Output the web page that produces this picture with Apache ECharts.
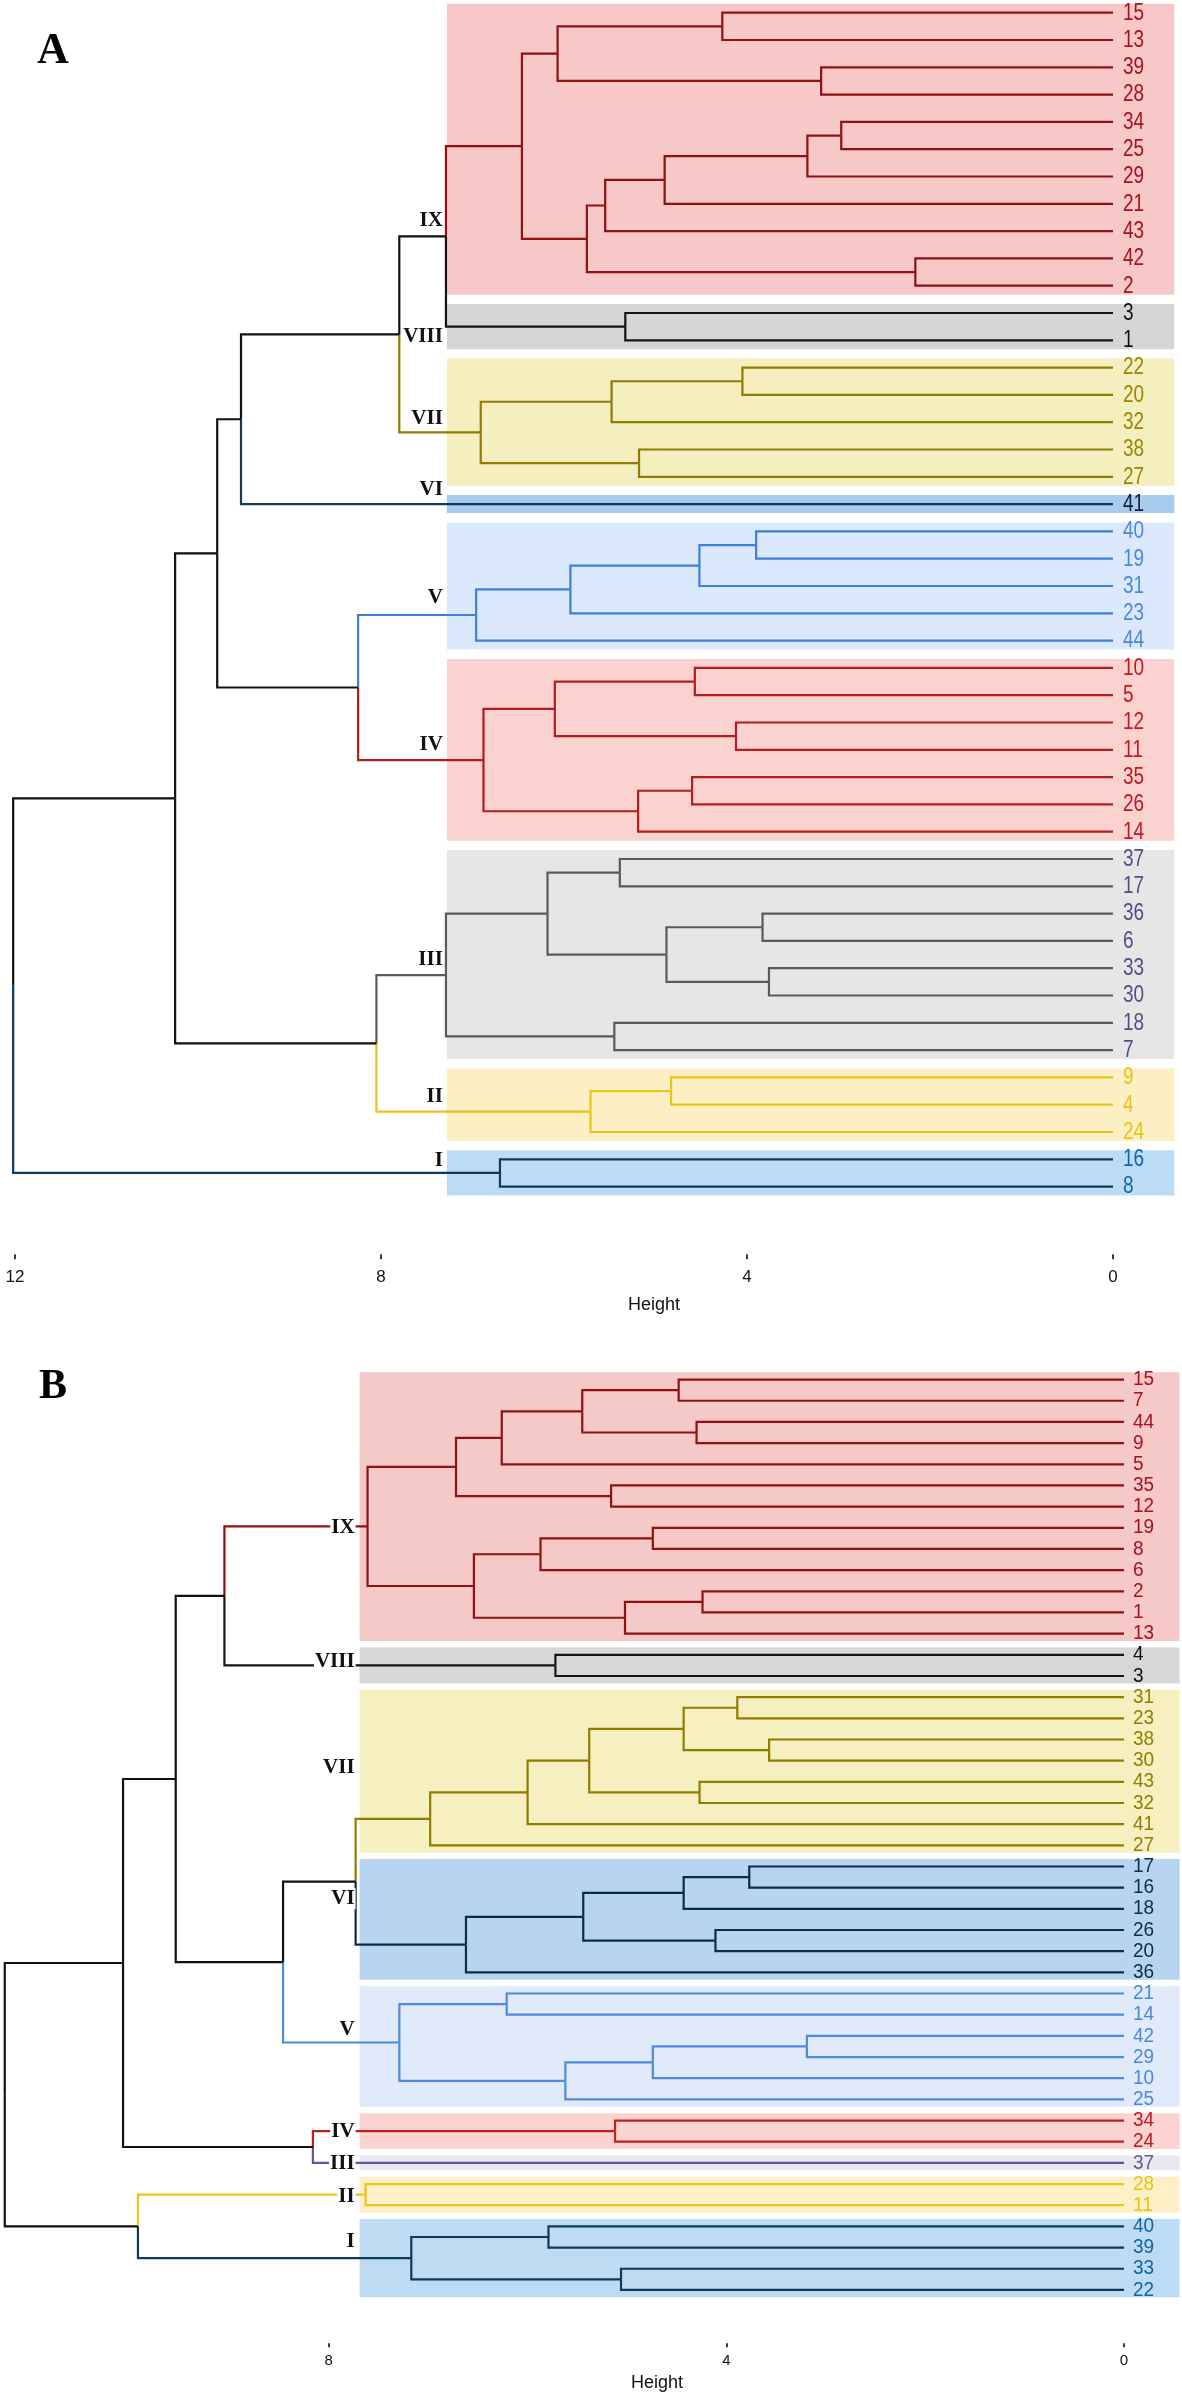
<!DOCTYPE html>
<html><head><meta charset="utf-8">
<script src="https://cdn.jsdelivr.net/npm/echarts@6/dist/echarts.min.js"></script>
<style>html,body{margin:0;padding:0;background:#fff}#c{width:1182px;height:2398px}</style>
</head><body><div id="c"></div>
<script>
// ---------------- DATA ----------------
// Panel A: leaf order (top to bottom), clusters, merges [childA, childB, height]
// negative = leaf label, positive = earlier merge row (1-based), like R hclust
const leavesA = [15,13,39,28,34,25,29,21,43,42,2,3,1,22,20,32,38,27,41,40,19,31,23,44,10,5,12,11,35,26,14,37,17,36,6,33,30,18,7,9,4,24,16,8];
const clusterNamesA = ['IX','VIII','VII','VI','V','IV','III','II','I'];
const clusterSizesA = [11,2,5,1,5,7,8,3,2];
const mergesA = [
  [-42,-2,2.16],[-34,-25,2.97],[-39,-28,3.19],[2,-29,3.34],[-33,-30,3.76],
  [-36,-6,3.83],[-40,-19,3.90],[-22,-20,4.05],[-12,-11,4.12],[-15,-13,4.27],
  [7,-31,4.52],[-10,-5,4.57],[-35,-26,4.60],[-9,-4,4.83],[6,5,4.88],
  [4,-21,4.90],[-38,-27,5.18],[13,-14,5.19],[-3,-1,5.33],[-37,-17,5.39],
  [-18,-7,5.45],[8,-32,5.48],[16,-43,5.55],[14,-24,5.71],[23,1,5.75],
  [11,-23,5.93],[10,3,6.07],[12,9,6.10],[20,15,6.18],[27,25,6.46],
  [-16,-8,6.70],[28,18,6.88],[22,17,6.91],[26,-44,6.96],[29,21,7.29],
  [30,19,7.29],[36,33,7.80],[35,24,8.05],[34,32,8.25],[37,-41,9.53],
  [40,39,9.79],[41,38,10.25],[42,31,12.02]
];
const heightTicksA = [0,4,8,12];

// Panel B
const leavesB = [15,7,44,9,5,35,12,19,8,6,2,1,13,4,3,31,23,38,30,43,32,41,27,17,16,18,26,20,36,21,14,42,29,10,25,34,24,37,28,11,40,39,33,22];
const clusterNamesB = ['IX','VIII','VII','VI','V','IV','III','II','I'];
const clusterSizesB = [13,2,8,6,6,2,1,2,4];
const mergesB = [
  [-42,-29,3.19],[-38,-30,3.57],[-17,-16,3.77],[-31,-23,3.89],[-26,-20,4.11],
  [-2,-1,4.24],[-43,-32,4.27],[-44,-9,4.30],[4,2,4.43],[3,-18,4.43],
  [-15,-7,4.48],[-19,-8,4.74],[1,-10,4.74],[6,-13,5.02],[-33,-22,5.06],
  [-34,-24,5.12],[-35,-12,5.16],[9,7,5.38],[10,5,5.44],[11,8,5.45],
  [13,-25,5.62],[-4,-3,5.72],[-40,-39,5.79],[12,-6,5.87],[18,-41,6.00],
  [-21,-14,6.21],[20,-5,6.26],[24,14,6.54],[19,-36,6.62],[27,17,6.72],
  [25,-27,6.98],[23,15,7.17],[26,21,7.29],[30,28,7.61],[-28,-11,7.63],
  [31,29,7.73],[16,-37,8.16],[36,33,8.46],[34,22,9.05],[39,38,9.54],
  [35,32,9.92],[40,37,10.07],[42,41,11.26]
];
const heightTicksB = [0,4,8];

const axisTitle = 'Height';
const panelLetters = ['A','B'];

// ---------------- LAYOUT / STYLE ----------------
const styleA = {
  axisMax: 12,
  rectLeft: 7.28, rectRight: -0.67, rectPad: 0.33,
  labelDx: 10, leafFont: 19, leafScaleY: 1.3,
  clusterLabelY: [7.6,11.88,14.88,17.48,21.44,26.82,34.70,39.72,42.03],
  clusterLabelBg: false,
  rectColors: ['#f6c8c8','#d6d6d6','#f5eebe','#a9cbee','#dce8fb','#fad2d0','#e6e6e6','#fcefc4','#bcdcf6'],
  lineColors: ['#8e1212','#151515','#8f7c00','#163a55','#3d7fd9','#b31d1d','#5a5a5a','#e8c51c','#0d3a58'],
  textColors: ['#a8101c','#111111','#9a8600','#0d1f3a','#4a88dc','#c4161c','#4d4f85','#e9c410','#1264a6']
};
const styleB = {
  axisMax: 11.3,
  rectLeft: 7.69, rectRight: -0.56, rectPad: 0.35,
  labelDx: 9, leafFont: 19, leafScaleY: 1.08,
  clusterLabelY: [6.99,13.34,18.35,24.52,30.68,35.5,37.01,38.6,40.72],
  clusterLabelBg: true,
  rectColors: ['#f6c9c9','#d7d7d7','#f6efc0','#b7d5f0','#e1eafb','#fbd3d1','#e8e8ee','#fdf0c6','#bddcf4'],
  lineColors: ['#8e1212','#151515','#8f7c00','#0c2c4a','#4d8bdc','#c0201c','#6a50a8','#e8c51c','#0d3a58'],
  textColors: ['#a8101c','#111111','#8f7e00','#0c2c4a','#4a88dc','#c4161c','#6b5a8a','#e9c410','#1264a6']
};

// ---------------- BUILD ----------------
function build(leaves, sizes, merges) {
  const pos = {};
  leaves.forEach((l, i) => pos[l] = i);
  const clOf = [];
  let k = 0;
  sizes.forEach((s, ci) => { for (let j = 0; j < s; j++) clOf[k++] = ci; });
  const nodes = [];
  const child = r => r < 0 ? { h: 0, y: pos[-r], cl: clOf[pos[-r]] } : nodes[r - 1];
  const edges = [];
  merges.forEach(m => {
    const a = child(m[0]), b = child(m[1]);
    const h = m[2], y = (a.y + b.y) / 2;
    [a, b].forEach(c => edges.push([h, y, c.y, c.h, c.cl]));
    nodes.push({ h: h, y: y, cl: (a.cl === b.cl) ? a.cl : -1 });
  });
  const rects = [];
  let st = 0;
  sizes.forEach((s, ci) => { rects.push([st, st + s - 1, ci]); st += s; });
  return { edges, rects, clOf };
}

function panelSeries(idx, leaves, names, sizes, merges, sty) {
  const d = build(leaves, sizes, merges);
  const base = { type: 'custom', coordinateSystem: 'cartesian2d', xAxisIndex: idx, yAxisIndex: idx, clip: false, silent: true, animation: false };
  return [
    Object.assign({}, base, {
      z: 1,
      data: d.rects,
      renderItem: function (params, api) {
        const r = d.rects[params.dataIndex];
        const p1 = api.coord([sty.rectLeft, r[0] - sty.rectPad]);
        const p2 = api.coord([sty.rectRight, r[1] + sty.rectPad]);
        return { type: 'rect', shape: { x: Math.min(p1[0], p2[0]), y: Math.min(p1[1], p2[1]), width: Math.abs(p2[0] - p1[0]), height: Math.abs(p2[1] - p1[1]) }, style: { fill: sty.rectColors[r[2]] } };
      }
    }),
    Object.assign({}, base, {
      z: 2,
      data: d.edges,
      renderItem: function (params, api) {
        const e = d.edges[params.dataIndex];
        const a = api.coord([e[0], e[1]]);
        const b = api.coord([e[0], e[2]]);
        const c = api.coord([e[3], e[2]]);
        const col = e[4] < 0 ? '#111111' : sty.lineColors[e[4]];
        return { type: 'polyline', shape: { points: [a, b, c] }, style: { stroke: col, lineWidth: 2.2, fill: null, lineJoin: 'miter' } };
      }
    }),
    Object.assign({}, base, {
      z: 3,
      data: leaves.map((l, i) => [0, i]),
      renderItem: function (params, api) {
        const i = params.dataIndex;
        const p = api.coord([0, i]);
        return { type: 'text', x: p[0] + sty.labelDx, y: p[1], scaleY: sty.leafScaleY,
          style: { text: String(leaves[i]), fill: sty.textColors[d.clOf[i]], fontSize: sty.leafFont, fontFamily: 'Liberation Sans', align: 'left', verticalAlign: 'middle' } };
      }
    }),
    Object.assign({}, base, {
      z: 4,
      data: names.map((n, i) => [sty.rectLeft, sty.clusterLabelY[i]]),
      renderItem: function (params, api) {
        const i = params.dataIndex;
        const p = api.coord([sty.rectLeft, sty.clusterLabelY[i]]);
        const st = { text: names[i], fill: '#111', fontSize: 21, fontWeight: 'bold', fontFamily: 'Liberation Serif', align: 'right', verticalAlign: 'middle' };
        if (sty.clusterLabelBg) { st.backgroundColor = '#ffffff'; st.padding = [0, 1, 0, 1]; }
        return { type: 'text', x: p[0] - 4, y: p[1], style: st };
      }
    })
  ];
}

function xAxisCfg(idx, ticks, max, offset, fs, margin, tickLen) {
  return {
    gridIndex: idx, type: 'value', inverse: true, min: 0, max: max,
    position: 'bottom', offset: offset,
    axisLine: { show: false, onZero: false }, splitLine: { show: false },
    axisTick: { show: true, length: tickLen, customValues: ticks, lineStyle: { color: '#111', width: 1.6 } },
    axisLabel: { fontSize: fs, color: '#111', margin: margin, fontFamily: 'Liberation Sans', customValues: ticks }
  };
}

const chart = echarts.init(document.getElementById('c'), null, { renderer: 'canvas', width: 1182, height: 2398 });
chart.setOption({
  animation: false,
  backgroundColor: '#ffffff',
  grid: [
    { left: 15, width: 1098, top: 12.7, height: 1173.9 },
    { left: 0.78, width: 1123.2, top: 1379.6, height: 910.3 }
  ],
  xAxis: [xAxisCfg(0, heightTicksA, styleA.axisMax, 67.7, 17, 15, 5), xAxisCfg(1, heightTicksB, styleB.axisMax, 53.4, 15, 10, 4)],
  yAxis: [
    { gridIndex: 0, type: 'value', inverse: true, min: 0, max: leavesA.length - 1, show: false },
    { gridIndex: 1, type: 'value', inverse: true, min: 0, max: leavesB.length - 1, show: false }
  ],
  graphic: [
    { type: 'text', x: 53, y: 52, style: { text: panelLetters[0], fontSize: 44, fontWeight: 'bold', fontFamily: 'Liberation Serif', fill: '#000', align: 'center', verticalAlign: 'middle' } },
    { type: 'text', x: 53, y: 1387, style: { text: panelLetters[1], fontSize: 42, fontWeight: 'bold', fontFamily: 'Liberation Serif', fill: '#000', align: 'center', verticalAlign: 'middle' } },
    { type: 'text', x: 654, y: 1305, style: { text: axisTitle, fontSize: 18, fontFamily: 'Liberation Sans', fill: '#111', align: 'center', verticalAlign: 'middle' } },
    { type: 'text', x: 657, y: 2383, style: { text: axisTitle, fontSize: 18, fontFamily: 'Liberation Sans', fill: '#111', align: 'center', verticalAlign: 'middle' } }
  ],
  series: [].concat(
    panelSeries(0, leavesA, clusterNamesA, clusterSizesA, mergesA, styleA),
    panelSeries(1, leavesB, clusterNamesB, clusterSizesB, mergesB, styleB)
  )
});
</script>
</body></html>
